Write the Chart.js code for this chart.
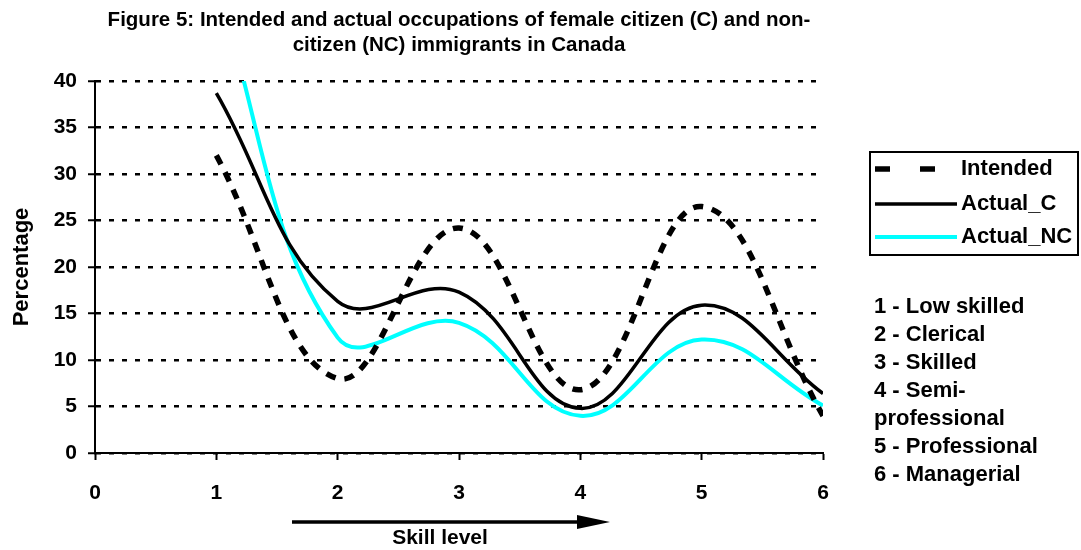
<!DOCTYPE html>
<html>
<head>
<meta charset="utf-8">
<title>Figure 5</title>
<script src="https://cdn.jsdelivr.net/npm/chart.js@4.4.1/dist/chart.umd.min.js"></script>
<style>
body { margin: 0; background: #fff; }
</style>
</head>
<body>
<canvas id="grafico" width="1081" height="550"></canvas>
<script>
// skill level on the x axis
var skillLevels = [1, 2, 3, 4, 5, 6];

// percentages per skill level
var intended = [32, 8, 24.2, 6.8, 26.5, 4];
var actualC = [38.7, 16.3, 17.3, 4.8, 15.9, 6.4];
var actualNC = [50, 12.4, 14, 4, 12.2, 5.1];

var seriesNames = ["Intended", "Actual_C", "Actual_NC"];

var titleLines = [
    "Figure 5: Intended and actual occupations of female citizen (C) and non-",
    "citizen (NC) immigrants in Canada"
];

var skillKey = [
    "1 - Low skilled",
    "2 - Clerical",
    "3 - Skilled",
    "4 - Semi-",
    "professional",
    "5 - Professional",
    "6 - Managerial"
];

var fuente = "'Liberation Sans', Arial, sans-serif";

function toPoints(values) {
    return skillLevels.map(function (x, i) { return { x: x, y: values[i] }; });
}

// titles, legend box, key and the arrow
var extras = {
    id: 'extras',
    afterDraw: function (chart) {
        var ctx = chart.ctx;
        var area = chart.chartArea;
        ctx.save();
        ctx.fillStyle = '#000';
        ctx.strokeStyle = '#000';

        // title
        ctx.font = "bold 20.5px " + fuente;
        ctx.textAlign = 'center';
        ctx.textBaseline = 'middle';
        var cx = (area.left + area.right) / 2;
        ctx.fillText(titleLines[0], cx, 20);
        ctx.fillText(titleLines[1], cx, 45);

        // y title
        ctx.save();
        ctx.translate(22, (area.top + area.bottom) / 2);
        ctx.rotate(-Math.PI / 2);
        ctx.font = "bold 22px " + fuente;
        ctx.fillText("Percentage", 0, 0);
        ctx.restore();

        // arrow under x axis
        ctx.lineWidth = 3.5;
        ctx.beginPath();
        ctx.moveTo(292, 522);
        ctx.lineTo(580, 522);
        ctx.stroke();
        ctx.beginPath();
        ctx.moveTo(577, 515);
        ctx.lineTo(610, 522);
        ctx.lineTo(577, 529);
        ctx.closePath();
        ctx.fill();
        ctx.font = "bold 21px " + fuente;
        ctx.fillText("Skill level", 440, 538);

        // legend
        ctx.lineWidth = 2;
        ctx.strokeRect(870, 152, 208, 103);
        var rows = [169, 204, 237];
        ctx.font = "bold 22px " + fuente;
        ctx.textAlign = 'left';
        chart.data.datasets.forEach(function (ds, i) {
            ctx.save();
            ctx.strokeStyle = ds.borderColor;
            ctx.lineWidth = ds.borderWidth;
            if (i === 0) {
                ctx.setLineDash([15, 30]);
            }
            ctx.beginPath();
            ctx.moveTo(875, rows[i]);
            ctx.lineTo(957, rows[i]);
            ctx.stroke();
            ctx.restore();
            ctx.fillText(seriesNames[i], 961, rows[i]);
        });

        // skill key
        ctx.font = "bold 22px " + fuente;
        skillKey.forEach(function (t, i) {
            ctx.fillText(t, 874, 307 + i * 28);
        });
        ctx.restore();
    }
};

var lienzo = document.getElementById("grafico");
var grafico = new Chart(lienzo, {
    type: 'line',
    data: {
        datasets: [
            {
                label: seriesNames[0],
                data: toPoints(intended),
                borderColor: '#000000',
                borderWidth: 5.5,
                borderDash: [10, 9],
                tension: 0.4,
                pointRadius: 0,
                fill: false,
                clip: 0
            },
            {
                label: seriesNames[1],
                data: toPoints(actualC),
                borderColor: '#000000',
                borderWidth: 3.5,
                tension: 0.4,
                pointRadius: 0,
                fill: false,
                clip: 0
            },
            {
                label: seriesNames[2],
                data: toPoints(actualNC),
                borderColor: '#00FFFF',
                borderWidth: 4,
                tension: 0.4,
                pointRadius: 0,
                fill: false,
                clip: 0
            }
        ]
    },
    options: {
        responsive: false,
        animation: false,
        layout: { padding: { top: 81, right: 258, left: 0, bottom: 0 } },
        plugins: {
            legend: { display: false },
            tooltip: { enabled: false }
        },
        scales: {
            x: {
                type: 'linear',
                min: 0,
                max: 6,
                ticks: {
                    stepSize: 1,
                    color: '#000',
                    font: { family: fuente, size: 21, weight: 'bold' },
                    padding: 21,
                    maxRotation: 0
                },
                grid: { drawOnChartArea: false, tickLength: 7, tickColor: '#000', tickWidth: 2 },
                border: { color: '#000', width: 2 },
                afterFit: function (s) { s.height = 97; }
            },
            y: {
                min: 0,
                max: 40,
                ticks: {
                    stepSize: 5,
                    color: '#000',
                    font: { family: fuente, size: 21, weight: 'bold' },
                    padding: 11
                },
                grid: { color: '#000', lineWidth: 2.5, tickLength: 7, tickColor: '#000', tickWidth: 2, tickBorderDash: [] },
                border: { color: '#000', width: 2, dash: [5, 8] },
                afterFit: function (s) { s.width = 95; }
            }
        }
    },
    plugins: [extras]
});
</script>
</body>
</html>
